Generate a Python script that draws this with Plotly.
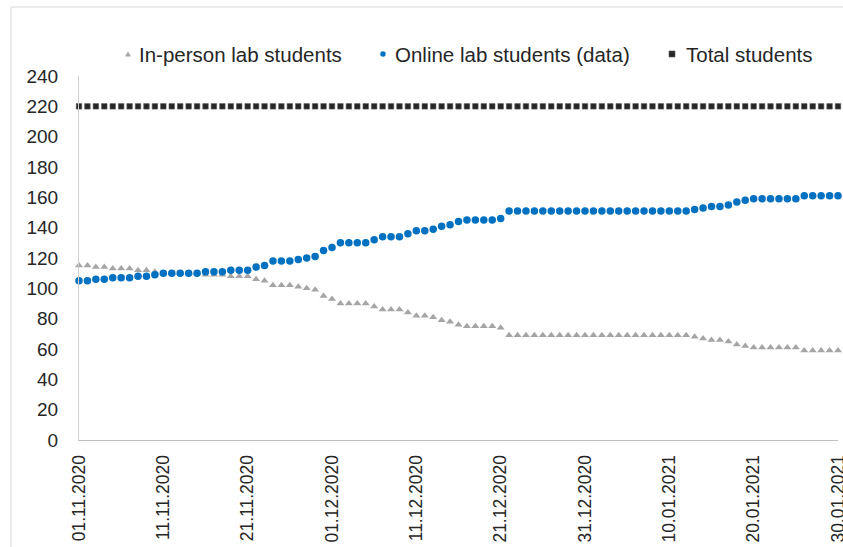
import plotly.graph_objects as go
import pandas as pd

dates = pd.date_range("2020-11-01", "2021-01-30", freq="D")

online = ([105, 105, 106, 106, 107, 107, 107, 108, 108, 109, 110, 110, 110, 110, 110, 111, 111, 111, 112, 112, 112, 114]
          + [115, 118, 118, 118, 119, 120, 121, 125, 127, 130, 130, 130, 130, 132, 134, 134, 134, 136, 138, 138, 139, 141, 142, 144, 145, 145, 145, 145, 146]
          + [151] * 22
          + [152, 153, 154, 154, 155, 157, 158]
          + [159] * 6
          + [161] * 5)

inperson = ([115, 115, 114, 114, 113, 113, 113, 112, 112, 111, 110, 110, 110, 110, 110, 109, 109, 109, 108, 108, 108, 106]
            + [105, 102, 102, 102, 101, 100, 99, 95, 93, 90, 90, 90, 90, 88, 86, 86, 86, 84, 82, 82, 81, 79, 78, 76, 75, 75, 75, 75, 74]
            + [69] * 22
            + [68, 67, 66, 66, 65, 63, 62]
            + [61] * 6
            + [59] * 5)

total = [220] * 91

series_names = ["In-person lab students", "Online lab students (data)", "Total students"]
y_ticks = [0, 20, 40, 60, 80, 100, 120, 140, 160, 180, 200, 220, 240]

FONT = "Liberation Sans, Arial, sans-serif"
GRAY = "#A5A5A5"
BLUE = "#0070C0"
DARK = "#262626"
TXT = "#262626"

fig = go.Figure()
fig.add_trace(go.Scatter(x=dates, y=inperson, mode="markers", name=series_names[0],
                         marker=dict(symbol="triangle-up", size=7, color=GRAY), cliponaxis=False))
fig.add_trace(go.Scatter(x=dates, y=online, mode="markers", name=series_names[1],
                         marker=dict(symbol="circle", size=7.5, color=BLUE), cliponaxis=False))
fig.add_trace(go.Scatter(x=dates, y=total, mode="markers", name=series_names[2],
                         marker=dict(symbol="square", size=5.5, color=DARK,
                                     line=dict(color="#595959", width=0.6)), cliponaxis=False))

# plot area geometry (pixels) for manual legend placement
L, R, T, B = 79, 838, 76, 440
W, H = 843, 547


def px(x):
    return (x - L) / (R - L)


def py(y):
    return (B - y) / (B - T)


legend_y = 54
legend_items = [
    (128, 138, series_names[0]),
    (383, 394, series_names[1]),
    (672, 685, series_names[2]),
]
annotations = []
for sx, tx, name in legend_items:
    annotations.append(dict(x=px(tx), y=py(legend_y), xref="paper", yref="paper",
                            text=name, showarrow=False, xanchor="left", yanchor="middle",
                            borderpad=0,
                            font=dict(family=FONT, size=20.5, color=TXT)))

shapes = [
    # chart border
    dict(type="rect", xref="paper", yref="paper", x0=px(11), x1=px(900), y0=py(600), y1=py(7),
         line=dict(color="#D9D9D9", width=1), fillcolor="rgba(0,0,0,0)", layer="below"),
    # legend symbols
    dict(type="path", xref="paper", yref="paper", xsizemode="pixel", ysizemode="pixel",
         xanchor=px(128), yanchor=py(legend_y), path="M -3 -2.5 L 3 -2.5 L 0 2.5 Z",
         fillcolor=GRAY, line=dict(width=0)),
    dict(type="circle", xref="paper", yref="paper", xsizemode="pixel", ysizemode="pixel",
         xanchor=px(383), yanchor=py(legend_y), x0=-2.7, x1=2.7, y0=-2.7, y1=2.7,
         fillcolor=BLUE, line=dict(width=0)),
    dict(type="rect", xref="paper", yref="paper", xsizemode="pixel", ysizemode="pixel",
         xanchor=px(672), yanchor=py(legend_y), x0=-3, x1=3, y0=-3, y1=3,
         fillcolor=DARK, line=dict(color="#595959", width=0.6)),
]

fig.update_layout(
    width=W, height=H,
    margin=dict(l=L, r=W - R, t=T, b=H - B, pad=0, autoexpand=False),
    paper_bgcolor="white", plot_bgcolor="white",
    showlegend=False,
    font=dict(family=FONT, size=18, color=TXT),
    annotations=annotations,
    shapes=shapes,
)
fig.update_xaxes(
    type="date", range=[dates[0], dates[-1]], automargin=False,
    tick0=dates[0], dtick=10 * 86400000, tickformat="%d.%m.%Y", tickangle=-90,
    showgrid=False, zeroline=False, showline=True, linecolor="#BFBFBF", linewidth=1,
    ticks="", ticklabelstandoff=7, ticklabeloverflow="allow",
    tickfont=dict(family=FONT, size=17.5, color=TXT),
)
fig.update_yaxes(
    range=[0, 240], tickvals=y_ticks, automargin=False,
    showgrid=False, zeroline=False, showline=True, linecolor="#D0D0D0", linewidth=1,
    ticks="", ticklabelstandoff=16, ticklabeloverflow="allow",
    tickfont=dict(family=FONT, size=19, color=TXT),
)

fig.write_html("out.html")
